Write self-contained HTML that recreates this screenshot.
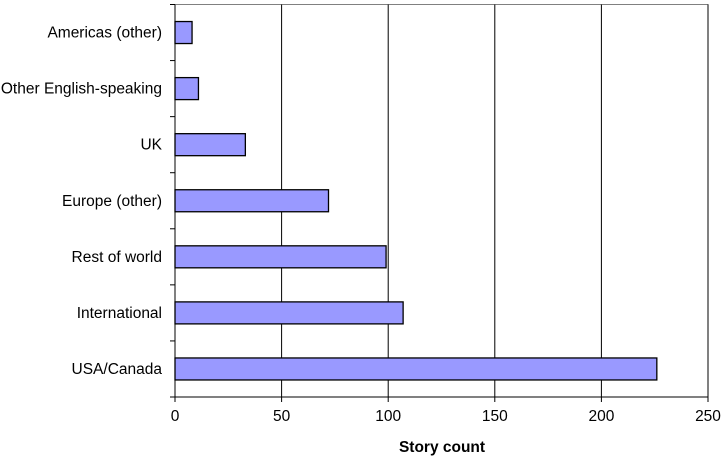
<!DOCTYPE html>
<html><head><meta charset="utf-8"><style>
body{margin:0;background:#fff;}
svg text{font-family:"Liberation Sans",Arial,sans-serif;font-size:15.5px;fill:#000;}
</style></head><body>
<svg id="chart" width="725" height="460"></svg>
<script>
const categories=["Americas (other)","Other English-speaking","UK","Europe (other)","Rest of world","International","USA/Canada"];
const values=[8,11,33,72,99,107,226];
const ticks=[0,50,100,150,200,250];
const NS="http://www.w3.org/2000/svg";
const svg=document.getElementById('chart');
const x0=175,x1=708,yTop=4.5,yBot=397;
const xs=v=>x0+(v-0)/(250-0)*(x1-x0);
const band=(yBot-yTop)/categories.length;
function mk(t,a,p){const e=document.createElementNS(NS,t);for(const k in a)e.setAttribute(k,a[k]);(p||svg).appendChild(e);return e;}
const border=mk('rect',{x:x0,y:yTop,width:x1-x0,height:yBot-yTop,fill:'none',stroke:'#808080','stroke-width':1});


ticks.forEach(t=>{
  if(t>0){const g=mk('line',{x1:xs(t),x2:xs(t),y1:yTop,y2:yBot,stroke:'#000','stroke-width':1});
  
  }
  const tk=mk('line',{x1:xs(t),x2:xs(t),y1:yBot,y2:yBot+5,stroke:'#000'});
  
  
  const l=mk('text',{x:xs(t),y:yBot+24,'text-anchor':'middle'});l.textContent=t;
  
  
});
for(let i=0;i<=categories.length;i++){
  const y=yTop+i*band;
  const tk=mk('line',{x1:x0-5,x2:x0,y1:y,y2:y,stroke:'#000'});
  
  
}
categories.forEach((c,i)=>{
  const yc=yTop+(i+0.5)*band;
  const b=mk('rect',{x:x0,y:yc-11,width:xs(values[i])-x0,height:22,fill:'#9999ff',stroke:'#000','stroke-width':1.3});
  
  
  const l=mk('text',{x:162,y:yc+5,'text-anchor':'end'});l.textContent=c;
  
  
});
const ax=mk('line',{x1:x0,x2:x0,y1:yTop,y2:yBot,stroke:'#000'});


const ax2=mk('line',{x1:x0,x2:x1,y1:yBot,y2:yBot,stroke:'#000'});


const tt=mk('text',{x:442,y:452,'text-anchor':'middle','font-weight':'bold'});tt.textContent='Story count';


</script>
</body></html>
